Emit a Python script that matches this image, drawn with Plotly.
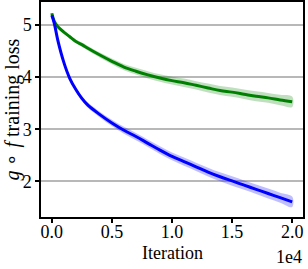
import plotly.graph_objects as go

iterations = [0, 200, 500, 1000, 1500, 2000, 2500, 3000, 4000, 5000, 6000, 7000, 8000,
              9000, 10000, 11000, 12000, 13000, 14000, 15000, 16000, 17000, 18000, 19000, 20000]
blue_loss = [5.18, 5.03, 4.70, 4.28, 3.97, 3.76, 3.59, 3.46, 3.28, 3.12, 2.98, 2.86, 2.73,
             2.60, 2.48, 2.38, 2.28, 2.18, 2.09, 2.01, 1.93, 1.85, 1.77, 1.69, 1.61]
blue_std = [0.01, 0.015, 0.02, 0.03, 0.035, 0.04, 0.045, 0.05, 0.055, 0.06, 0.065, 0.07, 0.07,
            0.075, 0.075, 0.08, 0.08, 0.085, 0.085, 0.09, 0.09, 0.09, 0.095, 0.095, 0.1]
green_loss = [5.22, 5.07, 4.96, 4.86, 4.77, 4.68, 4.62, 4.55, 4.42, 4.30, 4.19, 4.11, 4.04,
              3.98, 3.93, 3.89, 3.84, 3.79, 3.74, 3.71, 3.67, 3.63, 3.60, 3.56, 3.525]
green_std = [0.01, 0.015, 0.02, 0.025, 0.03, 0.035, 0.04, 0.045, 0.05, 0.055, 0.06, 0.065, 0.07,
             0.07, 0.075, 0.08, 0.08, 0.085, 0.085, 0.09, 0.09, 0.095, 0.095, 0.1, 0.1]

x_tickvals = [0, 5000, 10000, 15000, 20000]
x_ticktext = ["0.0", "0.5", "1.0", "1.5", "2.0"]
y_tickvals = [2, 3, 4, 5]

FONT = "Liberation Serif, Times New Roman, serif"

fig = go.Figure()

def add_series(mean, std, line_color, band_color):
    upper = [m + s for m, s in zip(mean, std)]
    lower = [m - s for m, s in zip(mean, std)]
    fig.add_trace(go.Scatter(
        x=iterations + iterations[::-1], y=upper + lower[::-1],
        fill="toself", fillcolor=band_color, line=dict(width=0, shape="spline"),
        mode="lines", hoverinfo="skip", showlegend=False))
    fig.add_trace(go.Scatter(
        x=iterations, y=mean, mode="lines",
        line=dict(color=line_color, width=3, shape="spline"), showlegend=False))

add_series(green_loss, green_std, "#008000", "rgba(0,128,0,0.25)")
add_series(blue_loss, blue_std, "#0000ff", "rgba(0,0,255,0.25)")

fig.update_layout(
    width=308, height=269,
    margin=dict(l=41, r=5, t=2, b=52, autoexpand=False),
    paper_bgcolor="white", plot_bgcolor="white",
    font=dict(family=FONT, size=18, color="black"),
    showlegend=False,
    xaxis=dict(range=[-900, 20900], tickvals=x_tickvals, ticktext=x_ticktext,
               showgrid=False, zeroline=False, showline=True, linecolor="black",
               linewidth=1.5, mirror=True, ticks="outside", ticklen=4, tickwidth=1.5,
               tickcolor="black", tickfont=dict(family=FONT, size=18), automargin=False,
               ticklabelstandoff=-6),
    yaxis=dict(range=[1.32, 5.435], tickvals=y_tickvals,
               showgrid=True, gridcolor="#b8b8b8", gridwidth=1.5, zeroline=False,
               showline=True, linecolor="black", linewidth=1.5, mirror=True,
               ticks="outside", ticklen=4, tickwidth=1.5, tickcolor="black",
               tickfont=dict(family=FONT, size=18), automargin=False),
    annotations=[
        dict(text="<i>g</i> ∘ <i>f</i> training loss", xref="paper", yref="paper",
             x=0, y=0.5, xanchor="center", yanchor="middle", xshift=-29,
             textangle=-90, showarrow=False, font=dict(family=FONT, size=20)),
        dict(text="Iteration", xref="paper", yref="paper", x=0.5, y=0,
             xanchor="center", yanchor="middle", yshift=-36, showarrow=False,
             font=dict(family=FONT, size=18)),
        dict(text="1e4", xref="paper", yref="paper", x=1, y=0,
             xanchor="right", yanchor="bottom", yshift=-52, xshift=1, showarrow=False,
             font=dict(family=FONT, size=18)),
    ],
)

fig.write_html("out.html", config={"displayModeBar": False},
               post_script="document.body.style.margin='0px';")
